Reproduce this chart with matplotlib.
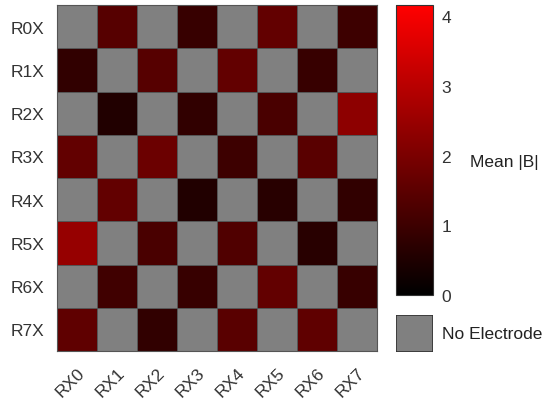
import numpy as np
import matplotlib.pyplot as plt
import matplotlib.transforms as mtransforms
from matplotlib.colors import LinearSegmentedColormap
from matplotlib.patches import Rectangle

plt.rcParams['font.family'] = ['Liberation Sans', 'DejaVu Sans']

row_labels = ['R0X', 'R1X', 'R2X', 'R3X', 'R4X', 'R5X', 'R6X', 'R7X']
col_labels = ['RX0', 'RX1', 'RX2', 'RX3', 'RX4', 'RX5', 'RX6', 'RX7']

# Mean |B| per electrode pair, nan = no electrode
nan = np.nan
r0 = [nan, 1.4, nan, 0.9, nan, 1.6, nan, 1.0]
r1 = [0.8, nan, 1.4, nan, 1.6, nan, 0.9, nan]
r2 = [nan, 0.55, nan, 0.8, nan, 1.2, nan, 2.3]
r3 = [1.6, nan, 1.75, nan, 1.0, nan, 1.45, nan]
r4 = [nan, 1.6, nan, 0.55, nan, 0.65, nan, 0.8]
r5 = [2.45, nan, 1.2, nan, 1.3, nan, 0.65, nan]
r6 = [nan, 1.05, nan, 0.9, nan, 1.6, nan, 0.9]
r7 = [1.55, nan, 0.8, nan, 1.45, nan, 1.55, nan]
vmax = 4.16

data = np.ma.masked_invalid(np.array([r0, r1, r2, r3, r4, r5, r6, r7]))

cmap = LinearSegmentedColormap.from_list('blackred', ['#000000', '#ff0000'])
gray = '#808080'
txt = '#333333'
fs = 12.5

fig = plt.figure(figsize=(5.5, 4.06), dpi=100)
ax = fig.add_axes([0.1036, 0.133, 0.582, 0.852])
ax.set_facecolor(gray)
mesh = ax.pcolormesh(data, cmap=cmap, vmin=0, vmax=vmax,
                     edgecolors='#555555', linewidth=0.6)
# draw gray cell borders too
for i in range(9):
    ax.axhline(i, color='#555555', lw=0.6)
    ax.axvline(i, color='#555555', lw=0.6)
ax.set_xlim(0, 8)
ax.set_ylim(8, 0)
ax.set_xticks(np.arange(8) + 0.5)
ax.set_xticklabels(col_labels, rotation=45, ha='right', va='top',
                   fontsize=fs, color=txt, rotation_mode='anchor')
shift = mtransforms.ScaledTranslation(12 / 100, 0, fig.dpi_scale_trans)
for lab in ax.get_xticklabels():
    lab.set_transform(lab.get_transform() + shift)
ax.set_yticks(np.arange(8) + 0.5)
ax.set_yticklabels(row_labels, fontsize=fs, color=txt)
ax.tick_params(axis='y', length=0, pad=9)
ax.tick_params(axis='x', length=0, pad=10)
for s in ax.spines.values():
    s.set_color('#555555')

cax = fig.add_axes([0.72, 0.271, 0.067, 0.714])
cb = fig.colorbar(mesh, cax=cax)
cb.set_ticks([0, 1, 2, 3, 4])
cb.ax.tick_params(length=0, labelsize=fs, labelcolor=txt, pad=6)
cb.outline.set_edgecolor('#333333')
cb.set_label('Mean |B|', rotation=0, fontsize=fs, color='#222222',
             va='center', ha='left')
cax.yaxis.set_label_coords(2.0, 0.46)

pax = fig.add_axes([0.72, 0.131, 0.067, 0.091])
pax.add_patch(Rectangle((0, 0), 1, 1, facecolor=gray, edgecolor='#333333', lw=1.2))
pax.set_xlim(0, 1)
pax.set_ylim(0, 1)
pax.axis('off')
fig.text(0.803, 0.1765, 'No Electrode', fontsize=fs, color='#222222', va='center')

fig.savefig('out.png', dpi=100)
